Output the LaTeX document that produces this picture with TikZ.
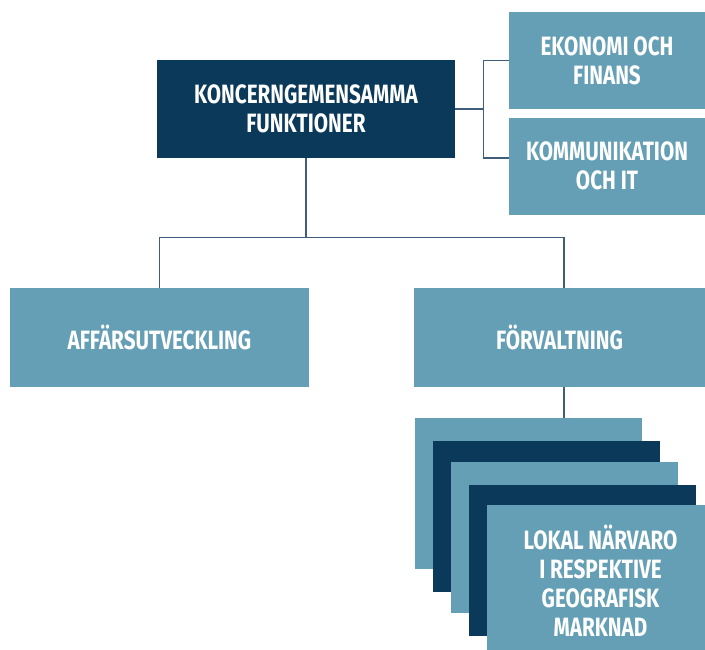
\documentclass[tikz,border=0pt]{standalone}
\usepackage{fontspec}
\setmainfont{Fira Sans}[FakeStretch=0.78]
\usepackage{tikz}
\usetikzlibrary{positioning,calc}
\definecolor{darkblue}{RGB}{11,57,89}
\definecolor{lightblue}{RGB}{101,159,181}
\definecolor{linkcol}{RGB}{62,94,124}

\begin{document}
\begin{tikzpicture}[x=1pt,y=-1pt,
  unit/.style={text=white,font=\fontsize{26.5}{29}\selectfont\bfseries,align=center,inner sep=0pt},
  mainbox/.style={unit,fill=darkblue,minimum width=298pt,minimum height=98pt},
  sidebox/.style={unit,fill=lightblue,minimum width=196pt,minimum height=97pt},
  areabox/.style={unit,fill=lightblue,minimum height=99pt},
  marketlight/.style={unit,fill=lightblue,minimum width=227pt,minimum height=151pt},
  marketdark/.style={unit,fill=darkblue,minimum width=227pt,minimum height=151pt},
  link/.style={draw=linkcol,line width=1.2pt}]
\useasboundingbox (0,0) rectangle (705,649);
\clip (0,0) rectangle (705,649);
\node[mainbox] (koncern) at (306,109) {KONCERNGEMENSAMMA\\FUNKTIONER};
\node[sidebox] (ekonomi) at (607,60.5) {EKONOMI OCH\\FINANS};
\node[sidebox] (komm) at (607,166) {KOMMUNIKATION\\OCH IT};
\node[areabox,minimum width=299pt] (affars) at (159.5,337.5) {AFFÄRSUTVECKLING};
\node[areabox,minimum width=291pt] (forv) at (559.5,337.5) {FÖRVALTNING};
% stacked markets
\node[marketlight] (m1) at (528.5,493.5) {};
\node[marketdark] (m2) at (546.5,516) {};
\node[marketlight] (m3) at (564.5,537.5) {};
\node[marketdark] (m4) at (582.5,560) {};
\node[marketlight] (m5) at (600.5,580.5) {LOKAL NÄRVARO\\I RESPEKTIVE\\GEOGRAFISK\\MARKNAD};
% connectors
\coordinate (j) at ($(koncern.east)+(28,0)$);
\draw[link] (koncern.east) -- (j);
\draw[link] (j) |- (ekonomi.west);
\draw[link] (j) |- ($(komm.west)+(0,-8)$);
\coordinate (split) at ($(koncern.south)+(0,79)$);
\draw[link] (koncern.south) -- (split);
\draw[link] (split) -| (affars.north);
\draw[link] (split) -| ($(forv.north)+(4.5,0)$);
\coordinate (fv) at ($(forv.south)+(4.5,0)$);
\draw[link] (fv) -- (fv |- m1.north);
\end{tikzpicture}
\end{document}
